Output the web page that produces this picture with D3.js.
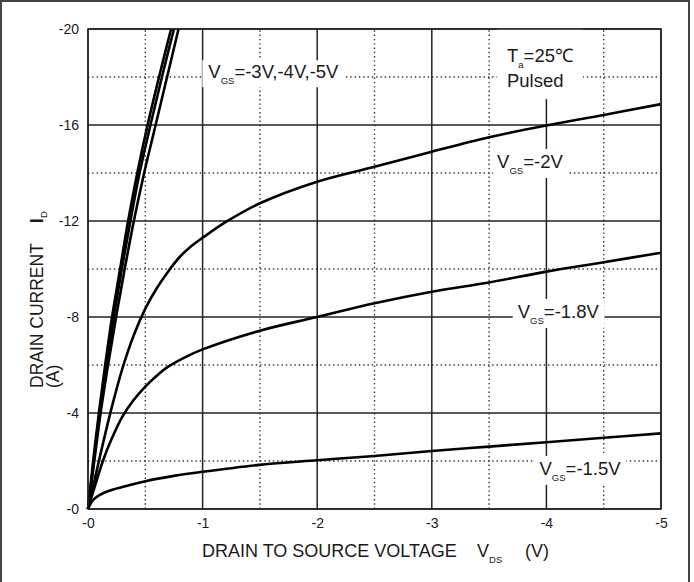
<!DOCTYPE html>
<html>
<head>
<meta charset="utf-8">
<script src="https://cdn.jsdelivr.net/npm/d3@7"></script>
<style>
  body { margin: 0; background: #fff; }
  text { font-family: "Liberation Sans", Arial, sans-serif; fill: #1a1a1a; }
</style>
</head>
<body>
<div id="app"></div>
<script>
// axis ticks
const xTicks = [0, -1, -2, -3, -4, -5];
const yTicks = [0, -4, -8, -12, -16, -20];
const xMinor = [-0.5, -1.5, -2.5, -3.5, -4.5];
const yMinor = [-2, -6, -10, -14, -18];

// curves: [VDS, ID]
const vgs5 = [[0, 0], [-0.045, -2], [-0.095, -4], [-0.15, -6], [-0.21, -8], [-0.28, -10],
  [-0.35, -12], [-0.43, -14], [-0.52, -16], [-0.62, -18], [-0.725, -20]];
const vgs4 = [[0, 0], [-0.05, -2], [-0.1, -4], [-0.16, -6], [-0.225, -8], [-0.295, -10],
  [-0.37, -12], [-0.45, -14], [-0.545, -16], [-0.645, -18], [-0.75, -20]];
const vgs3 = [[0, 0], [-0.055, -2], [-0.11, -4], [-0.175, -6], [-0.245, -8], [-0.32, -10],
  [-0.4, -12], [-0.49, -14], [-0.59, -16], [-0.69, -18], [-0.79, -20]];
const vgs2 = [[0, 0], [-0.1, -2.1], [-0.2, -4.1], [-0.3, -5.85], [-0.4, -7.25], [-0.5, -8.35],
  [-0.6, -9.2], [-0.7, -9.9], [-0.8, -10.5], [-0.9, -10.95], [-1.0, -11.3], [-1.2, -11.95],
  [-1.5, -12.74], [-2.0, -13.64], [-2.5, -14.26], [-3.0, -14.89], [-3.5, -15.49],
  [-4.0, -15.98], [-4.5, -16.42], [-5.0, -16.87]];
const vgs18 = [[0, 0], [-0.13, -2], [-0.2, -2.85], [-0.3, -3.85], [-0.4, -4.55], [-0.5, -5.1],
  [-0.6, -5.55], [-0.7, -5.93], [-0.85, -6.33], [-1.0, -6.65], [-1.5, -7.43], [-2.0, -8.0],
  [-2.5, -8.57], [-3.0, -9.05], [-3.5, -9.44], [-4.0, -9.89], [-4.5, -10.28], [-5.0, -10.68]];
const vgs15 = [[0, 0], [-0.02, -0.2], [-0.05, -0.4], [-0.1, -0.58], [-0.2, -0.78], [-0.35, -0.98],
  [-0.5, -1.16], [-0.75, -1.38], [-1.0, -1.55], [-1.5, -1.84], [-2.0, -2.03], [-2.5, -2.21],
  [-3.0, -2.42], [-3.5, -2.6], [-4.0, -2.78], [-4.5, -2.97], [-5.0, -3.15]];

const curves = [vgs5, vgs4, vgs3, vgs2, vgs18, vgs15];

const width = 694;
const height = 582;
const margin = { top: 29, right: 33, bottom: 73, left: 88 };

const svg = d3.select("#app").append("svg")
  .attr("width", width).attr("height", height)
  .style("display", "block");

svg.append("rect").attr("width", width).attr("height", height).attr("fill", "#fff");

const x = d3.scaleLinear().domain([0, -5]).range([margin.left, width - margin.right]);
const y = d3.scaleLinear().domain([0, -20]).range([height - margin.bottom, margin.top]);

// dotted minor grid
const grid = svg.append("g");
grid.selectAll(".vminor").data(xMinor).join("line")
  .attr("x1", d => x(d)).attr("x2", d => x(d))
  .attr("y1", y(0)).attr("y2", y(-20))
  .attr("stroke", "#333").attr("stroke-width", 1.4).attr("stroke-dasharray", "1.4 2.9");
grid.selectAll(".hminor").data(yMinor).join("line")
  .attr("y1", d => y(d)).attr("y2", d => y(d))
  .attr("x1", x(0)).attr("x2", x(-5))
  .attr("stroke", "#333").attr("stroke-width", 1.4).attr("stroke-dasharray", "1.4 2.9");

// solid major grid
grid.selectAll(".vmajor").data(xTicks).join("line")
  .attr("x1", d => x(d)).attr("x2", d => x(d))
  .attr("y1", y(0)).attr("y2", y(-20))
  .attr("stroke", "#222").attr("stroke-width", 1.5);
grid.selectAll(".hmajor").data(yTicks).join("line")
  .attr("y1", d => y(d)).attr("y2", d => y(d))
  .attr("x1", x(0)).attr("x2", x(-5))
  .attr("stroke", "#222").attr("stroke-width", 1.5);

// labels with white boxes that cut the grid
const bgLayer = svg.append("g");
const curveLayer = svg.append("g");
const labelLayer = svg.append("g");

const addLabel = (main, sub, rest, vx, vy, padX, padY) => {
  const t = labelLayer.append("text")
    .attr("x", x(vx)).attr("y", y(vy))
    .style("font-size", "18.5px");
  t.append("tspan").text(main);
  t.append("tspan").text(sub).style("font-size", "9.5px").attr("dy", 6);
  t.append("tspan").text(rest).attr("dy", -6);
  const b = t.node().getBBox();
  bgLayer.append("rect")
    .attr("x", b.x - padX).attr("y", b.y - padY)
    .attr("width", b.width + 2 * padX).attr("height", b.height + 2 * padY)
    .attr("fill", "#fff");
};

addLabel("V", "GS", "=-3V,-4V,-5V", -1.05, -17.95, 6, 1);
addLabel("V", "GS", "=-2V", -3.57, -14.21, 4, 2);
addLabel("V", "GS", "=-1.8V", -3.75, -7.96, 5, 2);
addLabel("V", "GS", "=-1.5V", -3.94, -1.42, 5, 2);

// Ta / Pulsed block
const ta = labelLayer.append("g");
const t1 = ta.append("text").attr("x", x(-3.656)).attr("y", y(-18.63)).style("font-size", "18.5px");
t1.append("tspan").text("T");
t1.append("tspan").text("a").style("font-size", "9.5px").attr("dy", 6);
t1.append("tspan").text("=25℃").attr("dy", -6);
ta.append("text").attr("x", x(-3.656)).attr("y", y(-17.58)).style("font-size", "18.5px").text("Pulsed");
const tb = ta.node().getBBox();
bgLayer.append("rect")
  .attr("x", tb.x - 10).attr("y", y(-20))
  .attr("width", tb.width + 20).attr("height", tb.y + tb.height + 8 - y(-20))
  .attr("fill", "#fff");

// curves
const line = d3.line().x(d => x(d[0])).y(d => y(d[1])).curve(d3.curveCatmullRom.alpha(0.5));
curveLayer.selectAll("path").data(curves).join("path")
  .attr("d", line)
  .attr("fill", "none")
  .attr("stroke", "#000")
  .attr("stroke-width", 2.6)
  .attr("stroke-linejoin", "round");

// axes
const xAxis = svg.append("g")
  .attr("transform", `translate(0,${y(0)})`)
  .call(d3.axisBottom(x).tickValues(xTicks).tickSize(0).tickPadding(9)
    .tickFormat(d => "-" + Math.abs(d)));
const yAxis = svg.append("g")
  .attr("transform", `translate(${x(0)},0)`)
  .call(d3.axisLeft(y).tickValues(yTicks).tickSize(0).tickPadding(9)
    .tickFormat(d => "-" + Math.abs(d)));
[xAxis, yAxis].forEach(a => {
  a.select(".domain").remove();
  a.selectAll("text").style("font-size", "14px").style("font-family", "Liberation Sans, Arial, sans-serif").attr("fill", "#1a1a1a");
});

// plot border
svg.append("rect")
  .attr("x", x(0)).attr("y", y(-20))
  .attr("width", x(-5) - x(0)).attr("height", y(0) - y(-20))
  .attr("fill", "none").attr("stroke", "#222").attr("stroke-width", 1.5);

// axis titles
const xt = svg.append("text")
  .attr("x", 202).attr("y", 557).style("font-size", "18px");
xt.append("tspan").text("DRAIN TO SOURCE VOLTAGE");
xt.append("tspan").text("V").attr("x", 477);
xt.append("tspan").text("DS").style("font-size", "9.5px").attr("dy", 6);
xt.append("tspan").text("(V)").attr("x", 525).attr("dy", -6);

const yt = svg.append("text")
  .attr("transform", "translate(43,388) rotate(-90)")
  .style("font-size", "17.5px");
yt.append("tspan").text("DRAIN CURRENT");
yt.append("tspan").text("I").attr("dx", 20).style("font-weight", "bold").style("font-size", "18px");
yt.append("tspan").text("D").style("font-size", "9.5px").attr("dy", 4);

svg.append("text")
  .attr("transform", "translate(59,388) rotate(-90)")
  .style("font-size", "17.5px")
  .text("(A)");

// outer frame
svg.append("rect")
  .attr("x", 1).attr("y", 1).attr("width", 688).attr("height", height + 20)
  .attr("fill", "none").attr("stroke", "#444").attr("stroke-width", 2);
</script>
</body>
</html>
